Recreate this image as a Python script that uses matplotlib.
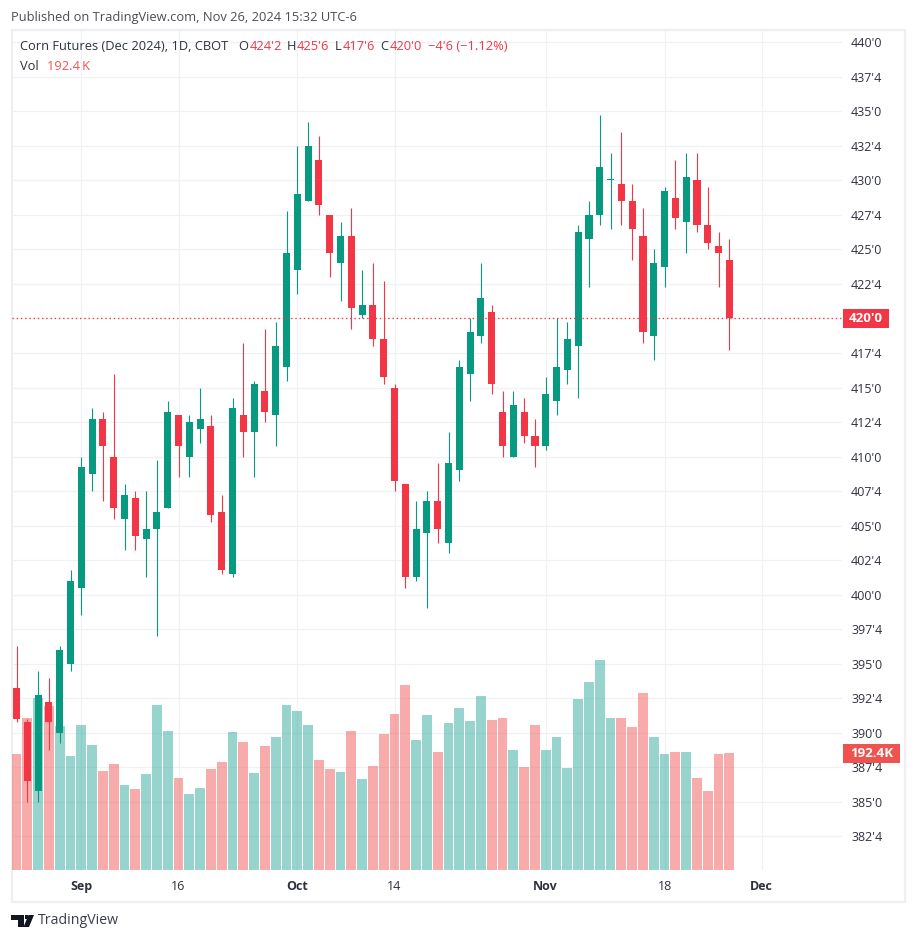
import numpy as np
import matplotlib
matplotlib.use('Agg')
import matplotlib.pyplot as plt
from matplotlib.patches import Rectangle, Polygon
from matplotlib.ticker import FuncFormatter

W, H = 916, 941
plt.rcParams['font.family'] = ['Open Sans', 'DejaVu Sans']

# daily bars, prices in cents
opens = [393.25, 390.75, 385.75, 392.25, 390, 395, 400.5, 408.75, 412.75, 410,
         405.5, 407, 404, 404.75, 406.25, 413, 410, 412, 412.25, 406,
         401.5, 413, 411.75, 414.75, 413, 416.5, 423.5, 428.5, 431.5, 427.5,
         424, 426, 420.25, 421, 418.5, 415, 408, 401.25, 404.5, 406.75,
         403.75, 409, 416, 418.75, 420.5, 413.25, 410, 413.25, 411.5, 410.75,
         414, 416.25, 418, 425.75, 427.5, 430, 429.75, 428.5, 426, 418.75,
         423.75, 428.75, 427, 430, 426.75, 425.25, 424.25]
highs = [396.25, 391, 394.5, 394, 396.25, 401.75, 410, 413.5, 413.25, 416,
         408, 407.5, 407.5, 409.75, 414, 413, 413, 415, 413, 407.25,
         414.25, 418.25, 415.5, 419.25, 419.75, 427.75, 432.5, 434.25, 433.25, 427.5,
         427, 428, 423.5, 424, 422.75, 415.25, 408, 406.75, 407.5, 409.5,
         411.75, 417, 420, 424, 421, 414.75, 414.75, 414.25, 412.75, 415.75,
         420, 419.75, 426.75, 428.5, 434.75, 432, 433.5, 429.75, 428, 425,
         429.5, 431.5, 432, 432, 429.5, 426.25, 425.75]
lows = [390.75, 385, 385, 388.75, 389.25, 394.5, 398.5, 407.5, 406.75, 405.5,
        403.25, 403.25, 401.25, 397, 406.25, 408.5, 408.5, 411, 405.25, 401.5,
        401.25, 410, 408.5, 412.5, 410.75, 415.5, 421.75, 428.5, 427.5, 423,
        421.25, 419.25, 420, 418, 415.25, 407.5, 400.5, 401, 399, 403.75,
        403, 408.25, 414, 418.25, 414.5, 410, 410, 411, 409.25, 410.5,
        413, 415.25, 414.25, 422.25, 426.75, 426.5, 426.75, 424.25, 418.25, 417,
        422.25, 426.5, 424.75, 426.25, 425, 422.25, 417.75]
closes = [391, 386.5, 392.75, 390.75, 396, 401, 409.25, 412.75, 410.75, 406.25,
          407.25, 404.25, 404.75, 406, 413.25, 410.75, 412.5, 412.75, 405.75, 401.75,
          413.5, 411.75, 415.25, 413.25, 418, 424.75, 429, 432.5, 428.25, 424.75,
          426, 420.75, 421, 418.5, 415.75, 408.25, 401.25, 404.75, 406.75, 404.75,
          409.5, 416.5, 419, 421.5, 415.25, 410.75, 413.75, 411.5, 410.75, 414.5,
          416.5, 418.5, 426.25, 427.5, 431, 430, 428.5, 426.5, 419, 424,
          429.25, 427.25, 430.25, 426.75, 425.5, 424.75, 420]
# volume in thousands
volumes = [191, 250, 283, 270, 237, 187, 238, 205, 163, 174,
           140, 133, 158, 271, 228, 151, 125, 135, 166, 178,
           227, 210, 159, 204, 219, 271, 261, 238, 181, 166,
           161, 228, 150, 171, 224, 256, 304, 214, 255, 194,
           242, 266, 245, 286, 247, 250, 197, 169, 238, 197,
           219, 168, 281, 309, 345, 250, 250, 235, 291, 219,
           191, 194, 194, 151, 130, 191, 192.4]

date_ticks = [6, 15, 26, 35, 49, 60, 69]
date_labels = ['Sep', '16', 'Oct', '14', 'Nov', '18', 'Dec']
price_ticks = np.arange(382.5, 440.1, 2.5)

GREEN = '#089981'
RED = '#f23645'
VOL_GREEN = '#26a69a'
VOL_RED = '#ef5350'
GRID = '#eff1f5'
BORDER = '#eeeef3'
TEXT = '#2e323d'


def quarter_ticks(v, pos=None):
    whole = int(np.floor(v))
    return "%d'%d" % (whole, round((v - whole) * 8))


def axis_ticks(v, pos=None):
    # the last price tag takes the place of this label
    if v == closes[-1]:
        return ''
    return quarter_ticks(v)


def ftext(x, y, s, **kw):
    kw.setdefault('va', 'center')
    kw.setdefault('color', TEXT)
    kw.setdefault('fontsize', 9.3)
    fig.text(x / W, 1 - y / H, s, **kw)


fig = plt.figure(figsize=(W / 100, H / 100), dpi=100, facecolor='white')

# chart frame
fig.patches.append(Rectangle((11.5 / W, 1 - 901.5 / H), 893.5 / W, 871.5 / H, transform=fig.transFigure,
                             fc='white', ec=BORDER, lw=1.6, zorder=0))

left, right, top, bottom = 12, 842, 31, 870
ax = fig.add_axes([left / W, 1 - bottom / H, (right - left) / W, (bottom - top) / H])
vol_ax = ax.twinx()
candle_ax = ax.twinx()
ax.set_zorder(1)
vol_ax.set_zorder(2)
candle_ax.set_zorder(3)
ax.patch.set_visible(False)
vol_ax.patch.set_visible(False)
candle_ax.patch.set_visible(False)

x = np.arange(len(closes))
o, h, l, c = map(np.array, (opens, highs, lows, closes))
up = c >= o

xlim = (-0.417, 76.43)
ylim = (380.06, 440.82)
ax.set_xlim(xlim)
ax.set_ylim(ylim)
candle_ax.set_ylim(ylim)
vol_ax.set_ylim(0, 1380)

# grid + axis labels
ax.set_yticks(price_ticks)
ax.yaxis.set_major_formatter(FuncFormatter(axis_ticks))
ax.yaxis.tick_right()
ax.tick_params(axis='y', length=0, pad=6.5, labelsize=9, labelcolor=TEXT)
ax.set_xticks(date_ticks)
ax.set_xticklabels(date_labels)
ax.tick_params(axis='x', length=0, pad=7.5, labelsize=9, labelcolor=TEXT)
for lab, txt in zip(ax.get_xticklabels(), date_labels):
    if not txt.isdigit():
        lab.set_fontweight('bold')
ax.grid(True, color=GRID, lw=0.9)
ax.set_axisbelow(True)
for a in (ax, vol_ax, candle_ax):
    for s in a.spines.values():
        s.set_visible(False)
vol_ax.set_yticks([])
candle_ax.set_yticks([])

# volume
vol_ax.bar(x, volumes, width=0.9, color=[VOL_GREEN if u else VOL_RED for u in up], alpha=0.48, lw=0)

# candles
colors = [GREEN if u else RED for u in up]
wicks = candle_ax.vlines(x, l, h, colors=colors, lw=0.8, zorder=2)
wicks.set_snap(True)
candle_ax.bar(x, np.maximum(np.abs(c - o), 0.08), bottom=np.minimum(o, c), width=0.66, color=colors, lw=0, zorder=3)

# last price line
candle_ax.axhline(closes[-1], color=RED, lw=0.95, ls=(0, (1, 2.2)), zorder=4)

# header
ftext(11, 17.5, 'Published on TradingView.com, Nov 26, 2024 15:32 UTC-6', color='#4a4d55')
ftext(20, 47, 'Corn Futures (Dec 2024), 1D, CBOT', zorder=5)
for px, s, col in [(238, 'O', TEXT), (250, "424'2", RED), (287, 'H', TEXT), (297, "425'6", RED),
                   (335, 'L', TEXT), (343, "417'6", RED), (380, 'C', TEXT), (390, "420'0", RED),
                   (428, "\u22124'6 (\u22121.12%)", RED)]:
    ftext(px, 47, s, color=col, zorder=5)
ftext(20, 66, 'Vol', zorder=5)
ftext(47, 66, '192.4\u2009K', color=VOL_RED, zorder=5)

# tags over the price scale
fig.patches.append(Rectangle((843 / W, 1 - 328 / H), 46 / W, 19 / H, transform=fig.transFigure,
                             fc=RED, ec='none', zorder=8))
ftext(866, 318.5, quarter_ticks(closes[-1]), color='white', fontweight='bold', fontsize=9.6, ha='center', zorder=9)
fig.patches.append(Rectangle((843 / W, 1 - 762.5 / H), 57 / W, 18.5 / H, transform=fig.transFigure,
                             fc=VOL_RED, ec='none', zorder=8))
ftext(871.5, 753.5, '192.4K', color='white', fontweight='bold', fontsize=9.6, ha='center', zorder=9)

# logo
def poly(pts, col='#131722'):
    pts = [(px / W, 1 - py / H) for px, py in pts]
    fig.patches.append(Polygon(pts, closed=True, transform=fig.transFigure, fc=col, ec='none', zorder=5))


poly([(11, 915), (24, 915), (24, 927), (18, 927), (18, 919.5), (11, 919.5)])
poly([(24.5, 915), (28, 915), (28, 919), (24.5, 919)])
poly([(28.5, 915), (34, 915), (29, 927), (23.5, 927)])
ftext(38, 921, 'TradingView', fontsize=10.2, color='#3a3e48')

fig.savefig('out.png', dpi=100)
